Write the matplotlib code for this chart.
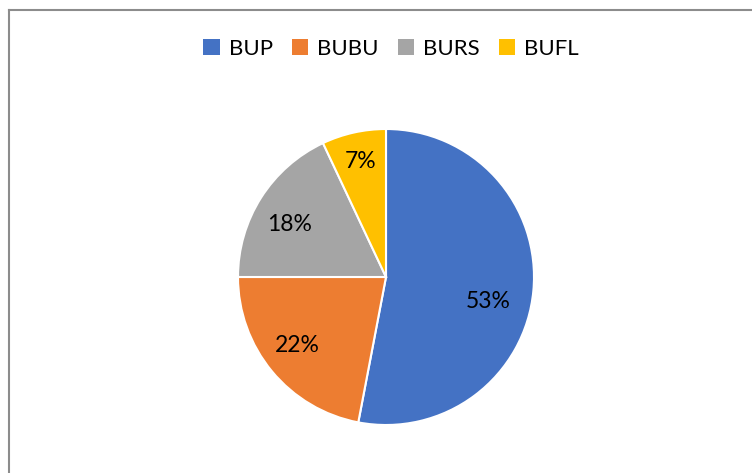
import numpy as np
import matplotlib.pyplot as plt
from matplotlib.lines import Line2D
from matplotlib.patches import Patch

labels = ['BUP', 'BUBU', 'BURS', 'BUFL']
values = [53, 22, 18, 7]
colors = ['#4472C4', '#ED7D31', '#A5A5A5', '#FFC000']

plt.rcParams['font.family'] = ['Lato', 'DejaVu Sans']

W, H = 752, 473
fig = plt.figure(figsize=(W / 100, H / 100), dpi=100)

# chart frame (only top and left edges visible)
fig.add_artist(Line2D([9 / W, 9 / W], [0, 1 - 10 / H], transform=fig.transFigure,
                      color='#8c8c8c', lw=1.5))
fig.add_artist(Line2D([9 / W, 1], [1 - 10 / H, 1 - 10 / H], transform=fig.transFigure,
                      color='#8c8c8c', lw=1.5))

cx, cy, r = 386, 277, 148
ax = fig.add_axes([(cx - r) / W, (H - cy - r) / H, 2 * r / W, 2 * r / H])
wedges, _, pcts = ax.pie(values, colors=colors, startangle=90, counterclock=False,
                         autopct='%1.0f%%', pctdistance=0.69,
                         wedgeprops=dict(edgecolor='white', linewidth=1.5),
                         textprops=dict(fontsize=16.5, color='black'))

# Excel-like label placement: nudge radius/angle a bit per slice
label_r = [0.71, 0.76, 0.74, 0.80]
label_nudge = [-8, -2, 4, 0]
for w, t, lr, dn in zip(wedges, pcts, label_r, label_nudge):
    a = np.deg2rad((w.theta1 + w.theta2) / 2 + dn)
    t.set_position((lr * np.cos(a), lr * np.sin(a)))

ax.set_xlim(-1, 1)
ax.set_ylim(-1, 1)
ax.set_aspect('equal')

handles = [Patch(facecolor=c, label=l) for c, l in zip(colors, labels)]
fig.legend(handles=handles, loc='center', bbox_to_anchor=(391 / W, 1 - 49 / H),
           ncol=4, frameon=False, fontsize=16, handlelength=0.75, handleheight=0.75,
           handletextpad=0.4, columnspacing=0.85)

fig.savefig('out.png', dpi=100)
